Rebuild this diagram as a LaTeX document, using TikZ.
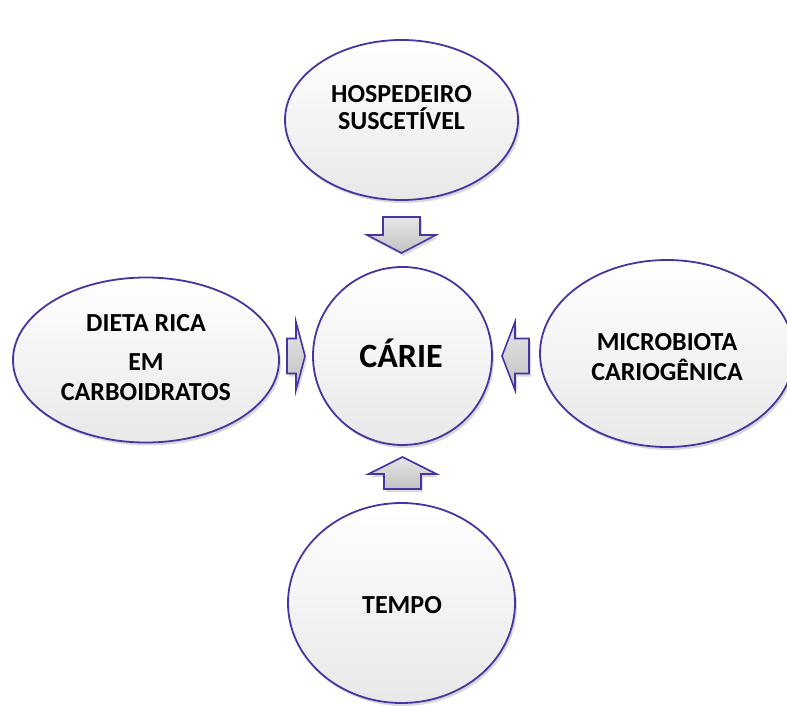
\documentclass[tikz,border=0pt]{standalone}
\usepackage{fontspec}
\setmainfont{Carlito}
\usetikzlibrary{shapes.geometric,shadows}
\definecolor{rim}{RGB}{72,52,160}

\begin{document}
\begin{tikzpicture}[x=1pt,y=-1pt,
			bolha/.style={ellipse, draw=rim, line width=1.8pt, inner sep=0pt,
				top color=white, middle color=white, bottom color=black!9,
				drop shadow={shadow xshift=2pt, shadow yshift=-3pt, opacity=0.15, fill=black}},
			rotulo/.style={align=center, anchor=base, inner sep=0pt,
				font=\fontsize{26}{30}\selectfont\bfseries},
			seta/.style={draw=rim, line width=1.6pt, line join=miter,
				top color=black!10, bottom color=black!24,
				drop shadow={shadow xshift=2pt, shadow yshift=-3pt, opacity=0.15, fill=black}}]
	\useasboundingbox (0,0) rectangle (787,706);

	% bolhas
	\node[bolha, minimum width=233pt, minimum height=160pt] (hosp) at (401.5,120) {};
	\node[bolha, minimum width=179pt, minimum height=178pt] (carie) at (402.5,356) {};
	\node[bolha, minimum width=266pt, minimum height=165pt] (dieta) at (146,360) {};
	\node[bolha, minimum width=254pt, minimum height=187pt] (micro) at (667,353.5) {};
	\node[bolha, minimum width=227pt, minimum height=200pt] (tempo) at (401.5,603) {};

	% textos (base = ultima linha)
	\node[rotulo, font=\fontsize{26}{28}\selectfont\bfseries] (hospTxt) at (401.5,130) {HOSPEDEIRO\\SUSCETÍVEL};
	\node[rotulo, font=\fontsize{34}{40}\selectfont\bfseries] (carieTxt) at (401,367) {CÁRIE};
	\node[rotulo] (dietaTxt) at (146,400) {DIETA RICA\\[9pt]EM\\CARBOIDRATOS};
	\node[rotulo] (microTxt) at (667,380) {MICROBIOTA\\CARIOGÊNICA};
	\node[rotulo] (tempoTxt) at (402,613) {TEMPO};

	% setas
	\draw[seta] (401.5,235) coordinate (pHosp) ++(-18.5,0) -- ++(0,-18) -- ++(37,0) -- ++(0,18)
		-- ++(16,0) -- ++(-34.5,18) -- ++(-34.5,-18) -- cycle;
	\draw[seta] (402.5,474) coordinate (pTempo) ++(-18.5,0) -- ++(0,15) -- ++(37,0) -- ++(0,-15)
		-- ++(15.5,0) -- ++(-34,-17) -- ++(-34,17) -- cycle;
	\draw[seta] (296,356) coordinate (pDieta) ++(0,-17.5) -- ++(-9,0) -- ++(0,35) -- ++(9,0)
		-- ++(0,16.5) -- ++(9,-34) -- ++(-9,-34) -- cycle;
	\draw[seta] (515,356) coordinate (pMicro) ++(0,-17.5) -- ++(14,0) -- ++(0,35) -- ++(-14,0)
		-- ++(0,16.5) -- ++(-13,-34) -- ++(13,-34) -- cycle;
\end{tikzpicture}
\end{document}
